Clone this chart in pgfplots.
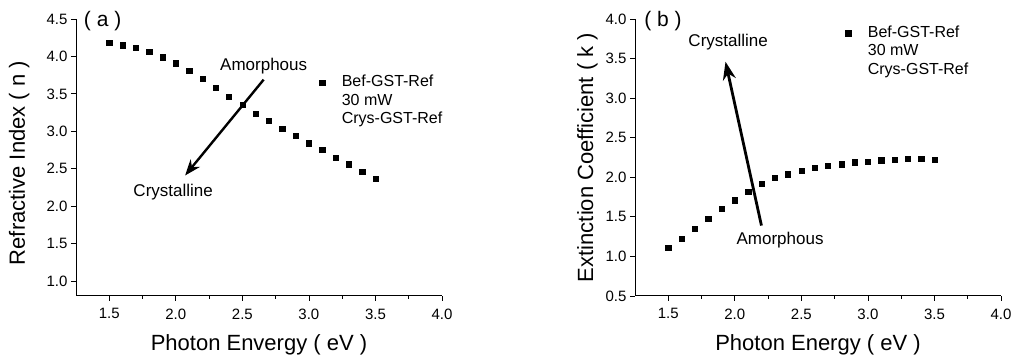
\documentclass[border=0pt]{standalone}
\usepackage{pgfplots}
\pgfplotsset{compat=1.18}
\usepackage{fontspec}
\setmainfont{Liberation Sans}
\usetikzlibrary{arrows.meta}
\newcommand{\fs}[1]{\fontsize{#1}{#1}\selectfont}
\pgfplotsset{
  myaxis/.style={
    scale only axis, anchor=south west,
    width=366pt, height=277pt,
    clip=false,
    axis lines=left, axis line style={-, line width=1pt},
    tick align=outside,
    major tick length=5pt, minor tick length=3pt,
    every tick/.style={black, line width=0.8pt},
    xtick={1.5,2.0,...,4.0},
    minor x tick num=1,
    xmax=4.0,
    tick label style={font=\fs{15}},
    xticklabel style={yshift=-4pt},
    /pgf/number format/assume math mode=true,
    /pgf/number format/.cd, fixed, fixed zerofill, precision=1, /pgfplots/.cd,
    every axis x label/.style={at={(axis description cs:0.5,-0.175)}, anchor=center, font=\fs{22}},
    legend cell align=left,
    legend style={draw=none, fill=none, anchor=north west,
      row sep=4.5pt, inner sep=0pt, font=\fs{16},
      nodes={inner sep=0pt, font=\fs{16}, text height=11pt, text depth=3pt}},
    /tikz/every odd column/.append style={column sep=17pt},
    legend image code/.code={\draw[#1] plot coordinates {(0pt,0pt)};},
  },
  myser/.style={only marks, mark=square*, mark size=2.6pt, black},
}
\begin{document}
\begin{tikzpicture}
\path[use as bounding box] (0pt,0pt) rectangle (1014pt,361pt);
% ---------------- (a) ----------------
\begin{axis}[myaxis, at={(76pt,65pt)},
  xmin=1.25, ymin=0.8, ymax=4.5,
  ytick={1.0,1.5,...,4.5},
  xlabel={Photon Envergy ( eV )},
  ylabel={Refractive Index ( n )},
  every axis y label/.style={at={(axis description cs:-0.155,0.48)}, rotate=90, anchor=center, font=\fs{22}},
  legend style={at={(axis description cs:0.665,0.795)}},
]
\addplot[myser] coordinates {
(1.5,4.18) (1.6,4.15) (1.7,4.12) (1.8,4.065) (1.9,3.99) (2.0,3.91) (2.1,3.81)
(2.2,3.70) (2.3,3.58) (2.4,3.46) (2.5,3.35) (2.6,3.23) (2.7,3.14) (2.8,3.04)
(2.9,2.94) (3.0,2.84) (3.1,2.75) (3.2,2.65) (3.3,2.56) (3.4,2.46) (3.5,2.37)};
\addlegendentry{Bef-GST-Ref}
\addlegendimage{empty legend}\addlegendentry{30 mW}
\addlegendimage{empty legend}\addlegendentry{Crys-GST-Ref}
\draw[line width=2.4pt, -{Stealth[length=16pt,width=12pt]}] (axis cs:2.66,3.69) -- (axis cs:2.07,2.41);
\node[font=\fs{17}] at (axis cs:2.66,3.87) {Amorphous};
\node[font=\fs{17}] at (axis cs:1.98,2.19) {Crystalline};
\node[font=\fs{21}] at (axis cs:1.45,4.47) {( a )};
\end{axis}
% ---------------- (b) ----------------
\begin{axis}[myaxis, at={(635pt,65pt)},
  xmin=1.25, ymin=0.5, ymax=4.0,
  ytick={0.5,1.0,...,4.0},
  xlabel={Photon Energy ( eV )},
  ylabel={Extinction Coefficient ( k )},
  every axis y label/.style={at={(axis description cs:-0.13,0.5)}, rotate=90, anchor=center, font=\fs{22}},
  legend style={at={(axis description cs:0.575,0.975)}},
]
\addplot[myser] coordinates {
(1.5,1.107) (1.6,1.22) (1.7,1.35) (1.8,1.48) (1.9,1.60) (2.0,1.71) (2.1,1.82)
(2.2,1.92) (2.3,1.99) (2.4,2.04) (2.5,2.085) (2.6,2.12) (2.7,2.15) (2.8,2.165)
(2.9,2.19) (3.0,2.20) (3.1,2.215) (3.2,2.22) (3.3,2.23) (3.4,2.23) (3.5,2.22)};
\addlegendentry{Bef-GST-Ref}
\addlegendimage{empty legend}\addlegendentry{30 mW}
\addlegendimage{empty legend}\addlegendentry{Crys-GST-Ref}
\draw[line width=2.8pt, -{Stealth[length=18pt,width=13pt]}] (axis cs:2.20,1.39) -- (axis cs:1.93,3.46);
\node[font=\fs{17}] at (axis cs:1.95,3.71) {Crystalline};
\node[font=\fs{17}] at (axis cs:2.34,1.20) {Amorphous};
\node[font=\fs{21}] at (axis cs:1.46,3.97) {( b )};
\end{axis}
\end{tikzpicture}
\end{document}
